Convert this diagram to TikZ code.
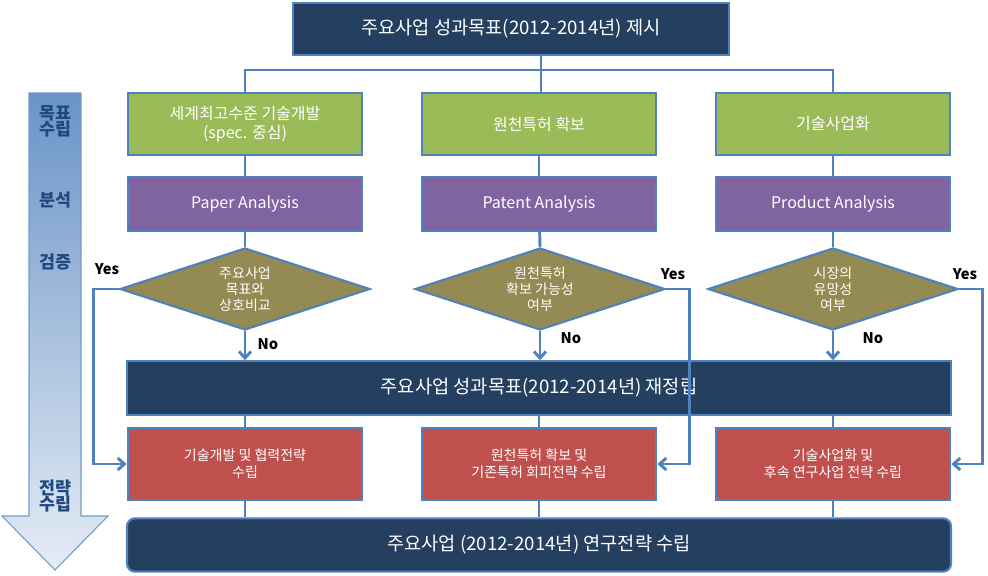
\documentclass[tikz,border=0pt]{standalone}
\usepackage{fontspec}
\setmainfont{Noto Sans CJK KR}
\usetikzlibrary{shapes.geometric,arrows.meta}
\definecolor{navy}{HTML}{243F60}
\definecolor{lblue}{HTML}{4F81BD}
\definecolor{grn}{HTML}{9BBB59}
\definecolor{prp}{HTML}{8064A2}
\definecolor{olv}{HTML}{948A54}
\definecolor{rd}{HTML}{C0504D}
\definecolor{txb}{HTML}{1F497D}
\begin{document}
\begin{tikzpicture}[x=0.75pt,y=-0.75pt,
  box/.style={draw=lblue,line width=1.6pt,text=white,align=center,font=\fontsize{12}{14}\selectfont},
  dia/.style={diamond,draw=lblue,line width=1.6pt,fill=olv,text=white,align=center,font=\fontsize{10.5}{12}\selectfont,inner sep=0pt,minimum width=187.5pt,minimum height=61.5pt,aspect=3},
  ln/.style={lblue,line width=2.2pt},
  ar/.style={ln,-{Straight Barb[length=5pt,width=9pt]}},
  lab/.style={font=\bfseries\fontsize{11}{12}\selectfont},
  side/.style={text=txb,font=\bfseries\fontsize{13}{15}\selectfont,align=center}]
\useasboundingbox (0,0) rectangle (988,575);
% left arrow
\shade[top color=lblue!85!white,bottom color=lblue!15!white,draw=lblue!80!white,line width=0.8pt]
 (29,93) -- (81,93) -- (81,516) -- (108,516) -- (55,570) -- (2,516) -- (29,516) -- cycle;
\node[side] (s1) at (55,121) {목표\\[-3pt]수립};
\node[side] (s2) at (55,200) {분석};
\node[side] (s3) at (55,262) {검증};
\node[side] (s4) at (55,496) {전략\\[-3pt]수립};
% top
\node[box,fill=navy,minimum width=327pt,minimum height=39pt,font=\fontsize{14}{16}\selectfont] (top) at (511,29) {주요사업 성과목표(2012-2014년) 제시};
\foreach \n/\x/\g/\p in {a/245/{세계최고수준 기술개발\\(spec. 중심)}/Paper Analysis, b/539/원천특허 확보/Patent Analysis, c/833/기술사업화/Product Analysis}{
  \node[box,fill=grn,minimum width=176pt,minimum height=47pt] (g\n) at (\x,124) {\g};
  \node[box,fill=prp,minimum width=176pt,minimum height=40pt] (p\n) at (\x,204) {\p};
}
\node[dia] (da) at (245,289) {주요사업\\목표와\\상호비교};
\node[dia] (db) at (540,289) {원천특허\\확보 가능성\\여부};
\node[dia] (dc) at (833,289) {시장의\\유망성\\여부};
\node[box,fill=navy,minimum width=618pt,minimum height=40pt,font=\fontsize{14}{16}\selectfont] (mid) at (539,388) {주요사업 성과목표(2012-2014년) 재정립};
\node[box,fill=rd,minimum width=176pt,minimum height=54pt,font=\fontsize{10.5}{13}\selectfont] (ra) at (245,464) {기술개발 및 협력전략\\수립};
\node[box,fill=rd,minimum width=176pt,minimum height=54pt,font=\fontsize{10.5}{13}\selectfont] (rb) at (539,464) {원천특허 확보 및\\기존특허 회피전략 수립};
\node[box,fill=rd,minimum width=176pt,minimum height=54pt,font=\fontsize{10.5}{13}\selectfont] (rc) at (833,464) {기술사업화 및\\후속 연구사업 전략 수립};
\node[box,fill=navy,rounded corners=6pt,minimum width=618pt,minimum height=40pt,font=\fontsize{14}{16}\selectfont] (bot) at (539,545) {주요사업 (2012-2014년) 연구전략 수립};
% connectors
\coordinate (j) at (541,70);
\draw[ln] (top.south -| j) -- (j);
\draw[ln] (ga.north) |- (j) -| (gc.north);
\draw[ln] (j) -- (gb.north -| j);
\foreach \n in {a,b,c}{
  \draw[ln] (g\n) -- (p\n);
  \draw[ln] (p\n) -- (d\n.north);
  \draw[ar] (d\n.south) -- (d\n.south |- mid.north);
  \draw[ln] (mid.south -| r\n) -- (r\n);
  \draw[ln] (r\n) -- (r\n |- bot.north);
}
\draw[ar] (da.west) -- ++(-25,0) |- (ra.west);
\draw[ar] (db.east) -- ++(23,0) |- (rb.east);
\draw[ar] (dc.east) -- ++(23,0) |- (rc.east);
\node[lab] (ya) at (107,269) {Yes};
\node[lab] (yb) at (673,274) {Yes};
\node[lab] (yc) at (965,274) {Yes};
\node[lab] (na) at (268,344) {No};
\node[lab] (nb) at (571,338) {No};
\node[lab] (nc) at (873,338) {No};
\end{tikzpicture}
\end{document}
